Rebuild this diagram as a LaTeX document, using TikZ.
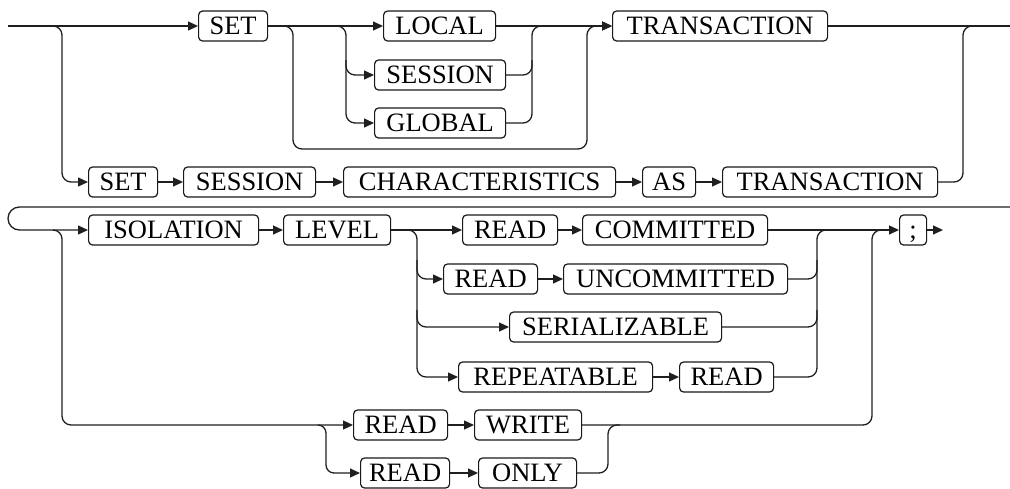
\documentclass[tikz,border=0pt]{standalone}
\usepackage{fontspec}
\setmainfont{Liberation Serif}
\usetikzlibrary{arrows.meta}
\begin{document}
\begin{tikzpicture}[x=1pt,y=-1pt,
  kw/.style={draw=black!90, line width=1.2pt, rounded corners=4pt, anchor=west,
    minimum height=30pt, inner xsep=0pt, text height=17.5pt, text depth=0pt,
    font=\fontsize{26.5}{30}\selectfont},
  rail/.style={draw=black!88, line width=1.3pt, rounded corners=9pt},
  arr/.style={rail, -{Triangle[length=10pt,width=9pt]}}]
\useasboundingbox (0,0) rectangle (1010,488);
% nodes
\node[kw, minimum width=69pt]  (SETa)     at (198,26)  {SET};
\node[kw, minimum width=112pt] (LOCAL)    at (383,26)  {LOCAL};
\node[kw, minimum width=131pt] (SESSIONa) at (374,75)  {SESSION};
\node[kw, minimum width=131pt] (GLOBAL)   at (374,123) {GLOBAL};
\node[kw, minimum width=215pt] (TRANSa)   at (612,26)  {TRANSACTION};
\node[kw, minimum width=69pt]  (SETb)     at (88,182)  {SET};
\node[kw, minimum width=132pt] (SESSIONb) at (183,182) {SESSION};
\node[kw, minimum width=272pt] (CHAR)     at (343,182) {CHARACTERISTICS};
\node[kw, minimum width=53pt]  (AS)       at (642,182) {AS};
\node[kw, minimum width=215pt] (TRANSb)   at (722,182) {TRANSACTION};
\node[kw, minimum width=170pt] (ISOL)     at (88,230)  {ISOLATION};
\node[kw, minimum width=107pt] (LEVEL)    at (283,230) {LEVEL};
\node[kw, minimum width=95pt]  (READa)    at (462,230) {READ};
\node[kw, minimum width=185pt] (COMM)     at (582,230) {COMMITTED};
\node[kw, minimum width=94pt]  (READb)    at (443,279) {READ};
\node[kw, minimum width=224pt] (UNCOMM)   at (563,279) {UNCOMMITTED};
\node[kw, minimum width=212pt] (SERIAL)   at (509,327) {SERIALIZABLE};
\node[kw, minimum width=194pt] (REPEAT)   at (458,377) {REPEATABLE};
\node[kw, minimum width=94pt]  (READc)    at (679,377) {READ};
\node[kw, minimum width=27pt]  (SEMI)     at (899,230) {;};
\node[kw, minimum width=94pt]  (READd)    at (353,425) {READ};
\node[kw, minimum width=107pt] (WRITE)    at (474,425) {WRITE};
\node[kw, minimum width=89pt]  (READe)    at (360,473) {READ};
\node[kw, minimum width=98pt]  (ONLY)     at (478,473) {ONLY};
% free ends
\coordinate (start) at (8,26);
\coordinate (rightA) at (1010,26);
\coordinate (rightB) at (1010,207);
\coordinate (finish) at (943,230);
% first line
\draw[arr] (start) -- (SETa);
\draw[arr] (SETa) -- (LOCAL);
\draw[arr] (283,26) -| (293,149) -| (587,26) -- (TRANSa);
\draw[arr] (LOCAL) -- (TRANSa);
\draw[arr] (337,26) -| (346,123) -- (GLOBAL);
\draw[arr] (346,60) |- (SESSIONa);
\draw[rail] (GLOBAL) -| (532,26) -- (545,26);
\draw[rail] (SESSIONa) -| (532,60);
\draw[rail] (TRANSa) -- (rightA);
% second line
\draw[arr] (53,26) -| (62,182) -- (SETb);
\draw[arr] (SETb) -- (SESSIONb);
\draw[arr] (SESSIONb) -- (CHAR);
\draw[arr] (CHAR) -- (AS);
\draw[arr] (AS) -- (TRANSb);
\draw[rail] (TRANSb) -| (963,26) -- (975,26);
% wrap
\draw[arr, rounded corners=0pt] (rightB) -- (19.5,207) arc[start angle=270, end angle=90, radius=11.5] -- (ISOL);
% isolation
\draw[arr] (ISOL) -- (LEVEL);
\draw[arr] (LEVEL) -- (READa);
\draw[arr] (READa) -- (COMM);
\draw[arr] (COMM) -- (SEMI);
\draw[arr] (SEMI) -- (finish);
\draw[arr] (408,230) -| (417,377) -- (REPEAT);
\draw[arr] (417,260) |- (READb);
\draw[arr] (417,310) |- (SERIAL);
\draw[arr] (READb) -- (UNCOMM);
\draw[arr] (REPEAT) -- (READc);
\draw[rail] (READc) -| (817,230) -- (830,230);
\draw[rail] (UNCOMM) -| (817,260);
\draw[rail] (SERIAL) -| (817,310);
% read write / read only
\draw[arr] (53,230) -| (62,425) -- (READd);
\draw[arr] (READd) -- (WRITE);
\draw[arr, rounded corners=8pt] (318,425) -| (326,473) -- (READe);
\draw[arr] (READe) -- (ONLY);
\draw[rail] (ONLY) -| (608,425) -- (620,425);
\draw[rail] (WRITE) -| (872,230) -- (885,230);
\end{tikzpicture}
\end{document}
